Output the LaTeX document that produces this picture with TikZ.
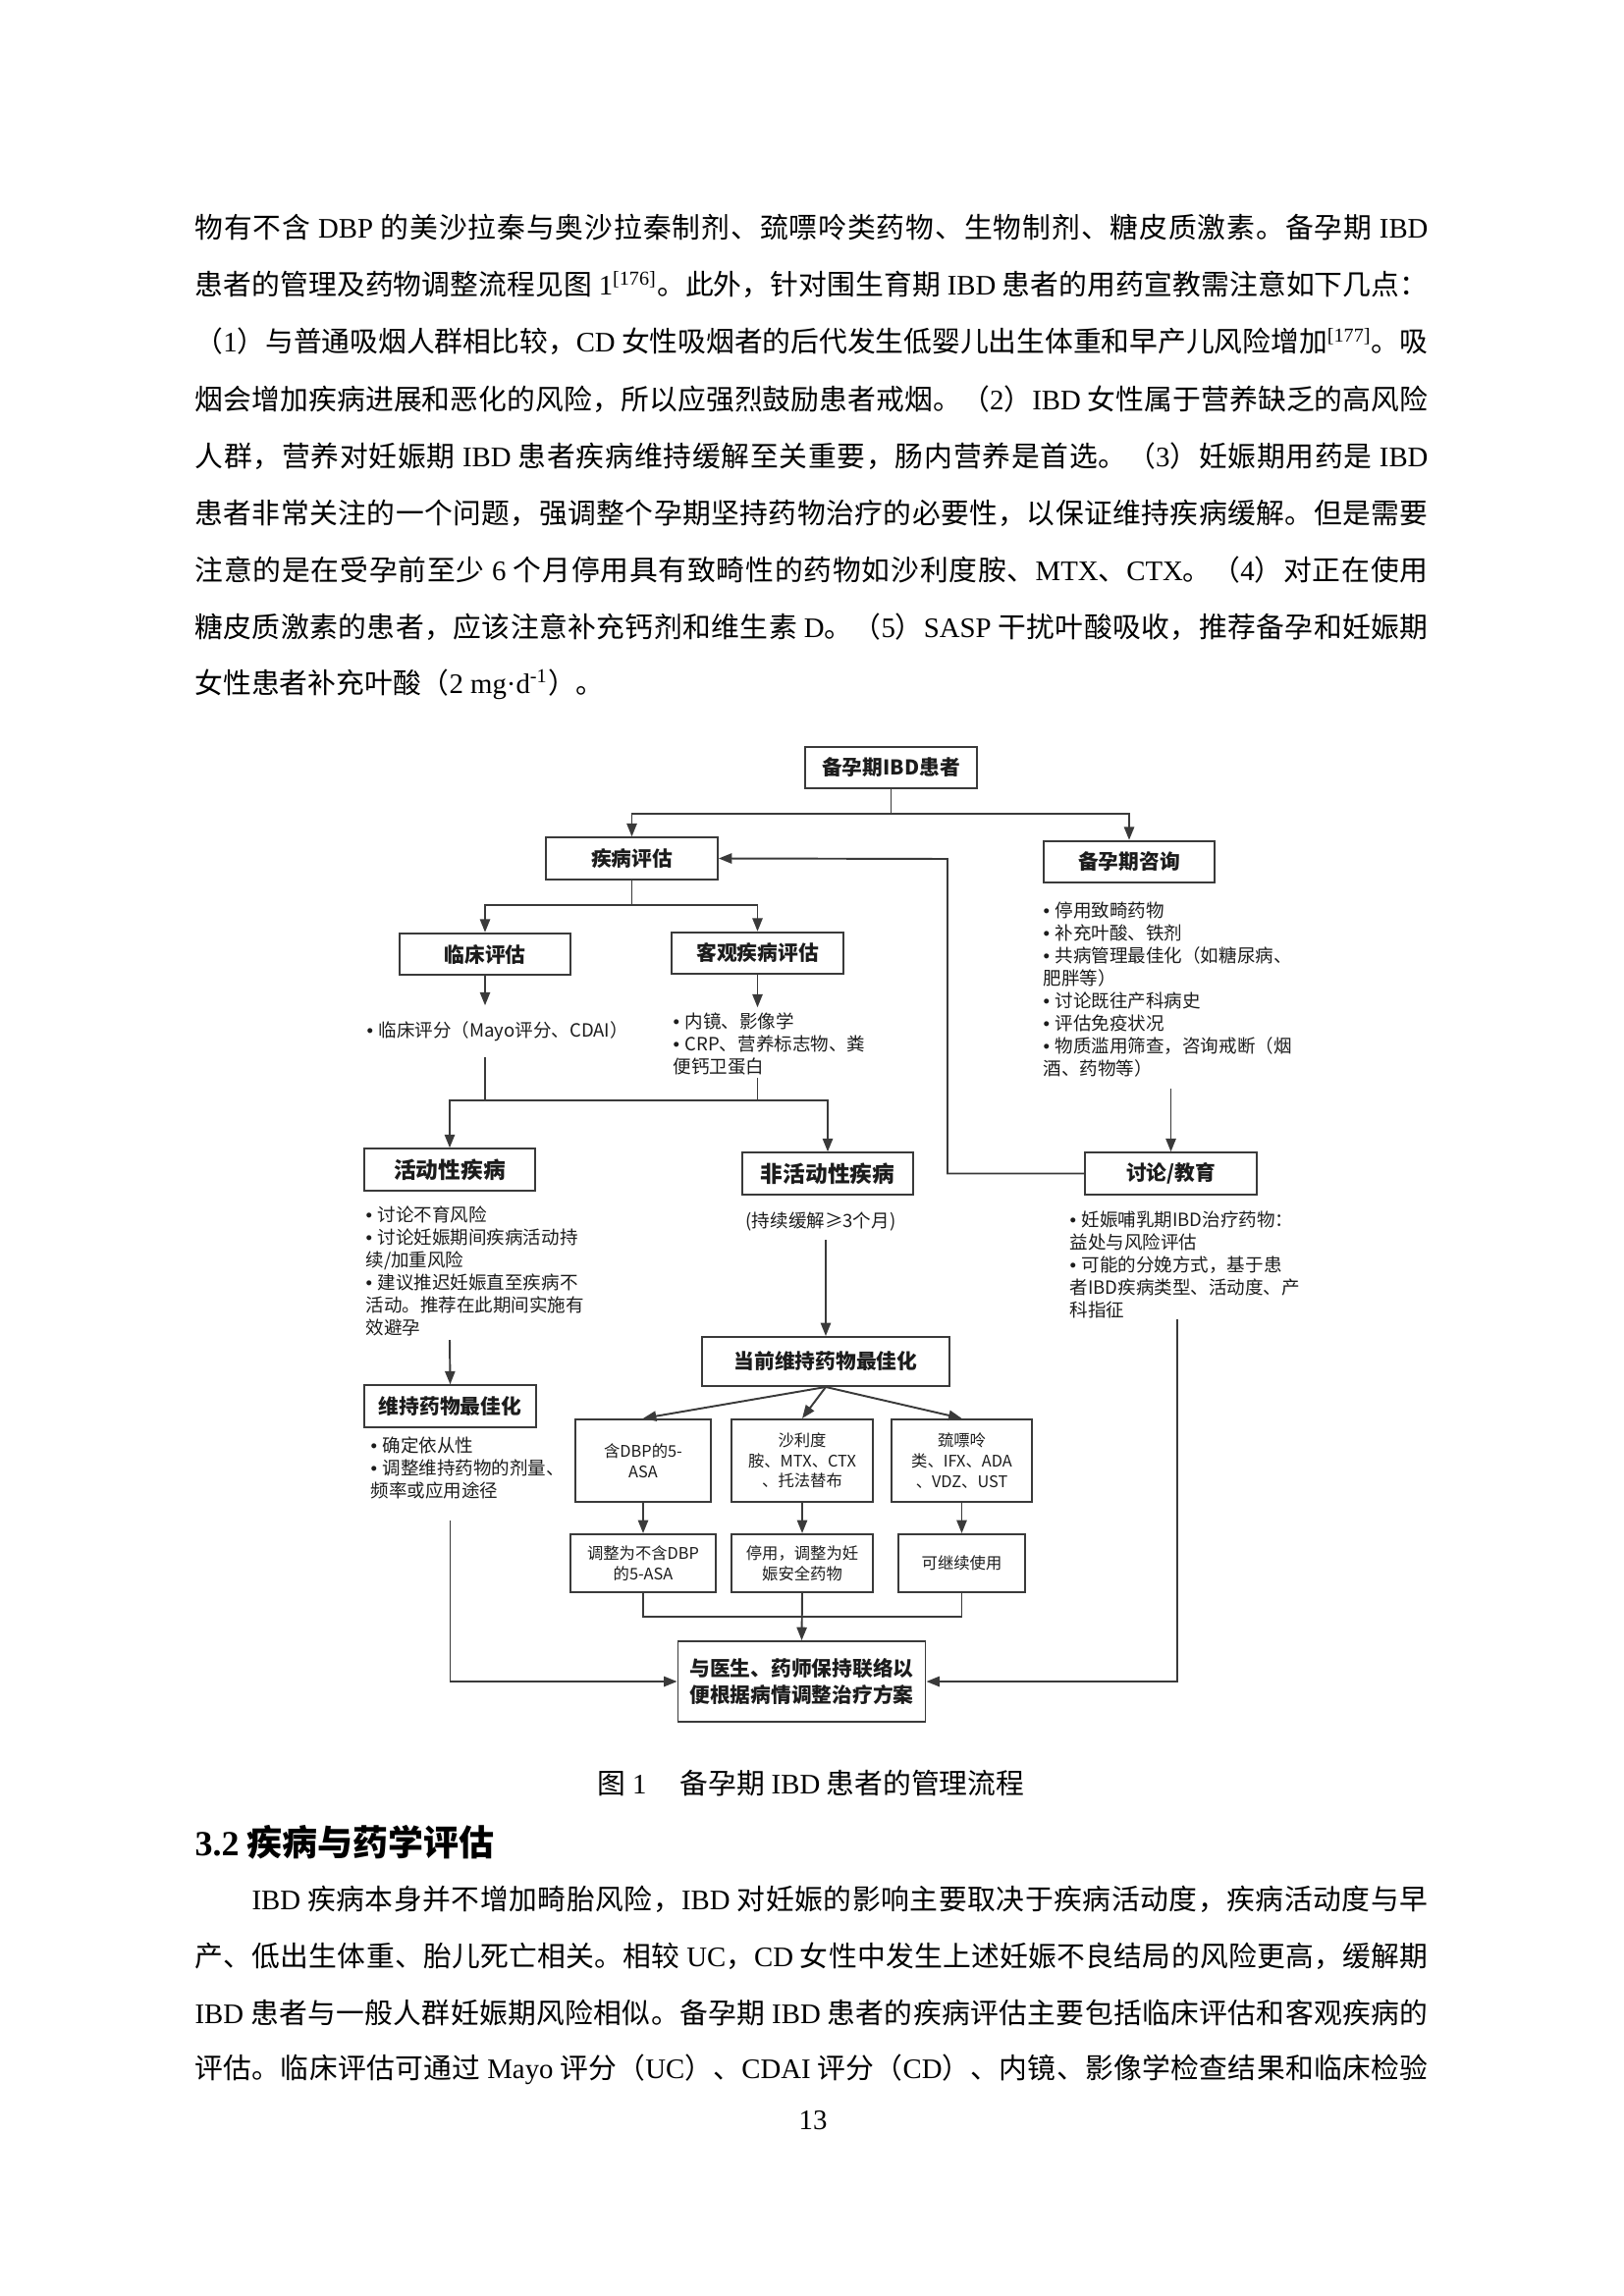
\documentclass[tikz,border=0pt]{standalone}
\usepackage{fontspec}
\setmainfont{Noto Sans CJK SC}
\newfontfamily\tnr{Liberation Serif}
\newfontfamily\arial{Liberation Sans}
\usetikzlibrary{arrows.meta,calc}
% stretchable glue between Han characters, for justified lines
\XeTeXinterchartokenstate=1
\newXeTeXintercharclass\hanclass
\newcount\hanidx
\newcommand{\hanrange}[2]{\hanidx=#1\relax
  \loop\ifnum\hanidx<#2\relax \XeTeXcharclass\hanidx=\hanclass \advance\hanidx by 1 \repeat}
\hanrange{"3000}{"3040}
\hanrange{"4E00}{"A000}
\hanrange{"FF00}{"FFF0}
\XeTeXinterchartoks\hanclass\hanclass={\hskip 0pt plus 1pt minus 0.3pt\relax}
\definecolor{ink}{HTML}{1C1C1C}
\definecolor{wire}{HTML}{3A3A3A}
\newcommand{\bodyfont}{\fontsize{10.4pt}{12pt}\selectfont}
\newcommand{\boxfont}{\fontsize{7.5pt}{9.4pt}\selectfont\bfseries}
\newcommand{\bulfont}{\fontsize{6.7pt}{8.35pt}\selectfont}
\newcommand{\minifont}{\fontsize{5.9pt}{7.47pt}\selectfont}
\newcommand{\en}[1]{{\tnr #1}}
\newcommand{\bu}{{\arial •}\hspace{0.3em}}
\tikzset{
  box/.style={draw=wire, line width=0.7pt, minimum width=22.2mm, minimum height=5.4mm, inner sep=0pt, align=center, font=\boxfont, text=ink},
  bigbox/.style={box, font=\fontsize{8.2pt}{10pt}\selectfont\bfseries},
  widebox/.style={box, minimum width=32mm, minimum height=6.35mm},
  minibox/.style={draw=wire, line width=0.7pt, inner sep=0pt, minimum height=10.7mm, align=center, font=\minifont, text=ink},
  bul/.style={anchor=north west, inner sep=0pt, align=left, font=\bulfont, text=ink},
  para/.style={anchor=west, inner sep=0pt, font=\bodyfont},
  txt/.style={inner sep=0pt, font=\bodyfont},
  ln/.style={draw=wire, line width=0.7pt},
  arr/.style={ln, -{Triangle[length=1.7mm,width=1.3mm]}},
}
\newcommand{\bodyline}[3]{\node[para] (#1) at (198,#2) {\hbox to 159.5mm{#3}};}
\newcommand{\notes}[4]{\node[bul] (#1) at (#2,#3) {#4};}

\begin{document}
\begin{tikzpicture}[x=0.127mm, y=-0.127mm]
  \fill[white] (0,0) rectangle (1653,2339);
  \useasboundingbox (0,0) rectangle (1653,2339);

  % text above the figure
  \bodyline{p1}{232}{物有不含~\en{DBP}~的美沙拉秦与奥沙拉秦制剂、巯嘌呤类药物、生物制剂、糖皮质激素。备孕期~\en{IBD}}
  \bodyline{p2}{290.1}{患者的管理及药物调整流程见图~\en{1\textsuperscript{[176]}}。此外，针对围生育期~\en{IBD}~患者的用药宣教需注意如下几点：}
  \bodyline{p3}{348.2}{（\en{1}）与普通吸烟人群相比较，\en{CD}~女性吸烟者的后代发生低婴儿出生体重和早产儿风险增加\en{\textsuperscript{[177]}}。吸}
  \bodyline{p4}{406.3}{烟会增加疾病进展和恶化的风险，所以应强烈鼓励患者戒烟。（\en{2}）\en{IBD}~女性属于营养缺乏的高风险}
  \bodyline{p5}{464.4}{人群，营养对妊娠期~\en{IBD}~患者疾病维持缓解至关重要，肠内营养是首选。（\en{3}）妊娠期用药是~\en{IBD}}
  \bodyline{p6}{522.5}{患者非常关注的一个问题，强调整个孕期坚持药物治疗的必要性，以保证维持疾病缓解。但是需要}
  \bodyline{p7}{580.6}{注意的是在受孕前至少~\en{6}~个月停用具有致畸性的药物如沙利度胺、\en{MTX}、\en{CTX}。（\en{4}）对正在使用}
  \bodyline{p8}{638.7}{糖皮质激素的患者，应该注意补充钙剂和维生素~\en{D}。（\en{5}）\en{SASP}~干扰叶酸吸收，推荐备孕和妊娠期}
  \node[txt, anchor=west] (p9) at (198,696.8) {女性患者补充叶酸（\en{2~mg·d\textsuperscript{-1}}）。};

  % flowchart boxes
  \node[box] (top) at (907.5,782) {备孕期IBD患者};
  \node[box] (dz) at (643.5,874.5) {疾病评估};
  \node[box] (zx) at (1150,878) {备孕期咨询};
  \node[box] (lc) at (494,972) {临床评估};
  \node[box] (kg) at (771.5,971) {客观疾病评估};
  \node[bigbox] (hd) at (458,1191.5) {活动性疾病};
  \node[bigbox] (fh) at (843,1195.5) {非活动性疾病};
  \node[box] (tl) at (1192.5,1195.5) {讨论/教育};
  \node[widebox] (dq) at (841,1387) {当前维持药物最佳化};
  \node[box] (wc) at (458.5,1432.5) {维持药物最佳化};
  \node[minibox, minimum width=17.5mm] (a1) at (655,1488) {含DBP的5-\\ASA};
  \node[minibox, minimum width=18.3mm] (b1) at (817,1488) {沙利度\\胺、MTX、CTX\\、托法替布};
  \node[minibox, minimum width=18.2mm] (c1) at (979.5,1488) {巯嘌呤\\类、IFX、ADA\\、VDZ、UST};
  \node[minibox, minimum width=18.8mm, minimum height=7.5mm] (a2) at (655,1592.5) {调整为不含DBP\\的5-ASA};
  \node[minibox, minimum width=18.3mm, minimum height=7.5mm] (b2) at (817,1592.5) {停用，调整为妊\\娠安全药物};
  \node[minibox, minimum width=16.4mm, minimum height=7.5mm] (c2) at (979.5,1592.5) {可继续使用};
  \node[widebox, minimum height=10.4mm] (fin) at (816.5,1713) {与医生、药师保持联络以\\便根据病情调整治疗方案};

  % bullet notes
  \notes{lct}{373}{1040}{\bu 临床评分（Mayo评分、CDAI）}
  \notes{kgt}{685}{1031}{\bu 内镜、影像学\\\bu CRP、营养标志物、粪\\便钙卫蛋白}
  \notes{zxt}{1062}{918}{\bu 停用致畸药物\\\bu 补充叶酸、铁剂\\\bu 共病管理最佳化（如糖尿病、\\肥胖等）\\\bu 讨论既往产科病史\\\bu 评估免疫状况\\\bu 物质滥用筛查，咨询戒断（烟\\酒、药物等）}
  \notes{hdt}{372}{1228}{\bu 讨论不育风险\\\bu 讨论妊娠期间疾病活动持\\续/加重风险\\\bu 建议推迟妊娠直至疾病不\\活动。推荐在此期间实施有\\效避孕}
  \notes{tlt}{1089}{1233}{\bu 妊娠哺乳期IBD治疗药物：\\益处与风险评估\\\bu 可能的分娩方式，基于患\\者IBD疾病类型、活动度、产\\科指征}
  \notes{wct}{377}{1463}{\bu 确定依从性\\\bu 调整维持药物的剂量、\\频率或应用途径}
  \node[bul, anchor=center] (fhn) at (836,1245) {(持续缓解≥3个月)};

  % connectors
  \coordinate (j1) at (907.5,829);
  \coordinate (j2) at (643.5,922);
  \coordinate (mg) at (650,1121);
  \coordinate (fb) at (965,875);
  \coordinate (mg2) at (817,1647);
  \draw[arr] (top.south) -- (j1) -| (dz.north);
  \draw[arr] (j1) -| (zx.north);
  \draw[arr] (dz.south) -- (j2) -| (lc.north);
  \draw[arr] (j2) -| (kg.north);
  \draw[arr] (lc.south) -- ([yshift=2mm]lc.south |- lct.north);
  \draw[arr] (kg.south) -- ([yshift=0.6mm]kg.south |- kgt.north);
  \draw[ln] ([yshift=-2mm]lc.south |- lct.south) -- (lc.south |- mg);
  \draw[ln] ([yshift=-0.3mm]kg.south |- kgt.south) -- (kg.south |- mg);
  \draw[arr] (mg) -| (hd.north);
  \draw[arr] (mg) -| (fh.north);
  \draw[arr] ([yshift=-1.4mm]tl.north |- zxt.south) -- (tl.north);
  \draw[arr] (tl.west) -| (fb) -- (dz.east);
  \draw[arr] ([yshift=-0.4mm]hd.south |- hdt.south) -- (wc.north);
  \draw[arr] ([yshift=-1mm]dq.north |- fhn.south) -- (dq.north);
  \draw[arr] (dq.south) -- (a1.north);
  \draw[arr] (dq.south) -- (b1.north);
  \draw[arr] (dq.south) -- (c1.north);
  \draw[arr] (a1.south) -- (a2.north);
  \draw[arr] (b1.south) -- (b2.north);
  \draw[arr] (c1.south) -- (c2.north);
  \draw[ln] (a2.south) |- (mg2) -| (c2.south);
  \draw[arr] (b2.south) -- (fin.north);
  \draw[arr] ([yshift=-2.7mm]wc.south |- wct.south) |- (fin.west);
  \draw[arr] ([xshift=0.8mm]tl.south |- tlt.south) |- (fin.east);

  % caption and text below
  \node[txt] (cap) at (826,1817) {图~\en{1}\hspace{1.2em}备孕期~\en{IBD}~患者的管理流程};
  \node[txt, anchor=west, font=\fontsize{13pt}{15pt}\selectfont\bfseries] (sec) at (198,1877) {\en{3.2}~疾病与药学评估};
  \node[para] (q1) at (256,1935) {\hbox to 152.1mm{\en{IBD}~疾病本身并不增加畸胎风险，\en{IBD}~对妊娠的影响主要取决于疾病活动度，疾病活动度与早}};
  \bodyline{q2}{1993}{产、低出生体重、胎儿死亡相关。相较~\en{UC}，\en{CD}~女性中发生上述妊娠不良结局的风险更高，缓解期}
  \bodyline{q3}{2050}{\en{IBD}~患者与一般人群妊娠期风险相似。备孕期~\en{IBD}~患者的疾病评估主要包括临床评估和客观疾病的}
  \bodyline{q4}{2108}{评估。临床评估可通过~\en{Mayo}~评分（\en{UC}）、\en{CDAI}~评分（\en{CD}）、内镜、影像学检查结果和临床检验}
  \node[txt] (pg) at (828,2160) {\en{13}};
\end{tikzpicture}
\end{document}
